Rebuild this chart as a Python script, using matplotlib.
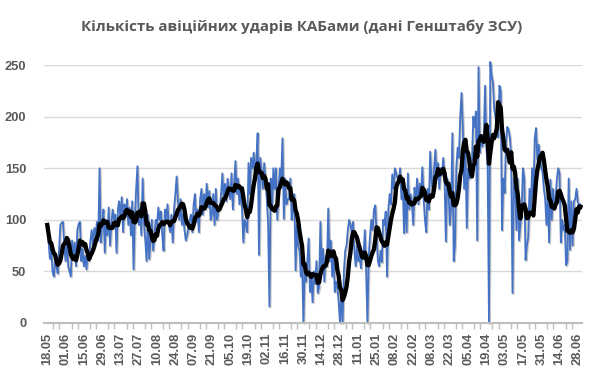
import matplotlib.pyplot as plt
import matplotlib.patheffects as pe
import numpy as np
import pandas as pd

# daily number of strikes, 18.05.2024 - 30.06.2025 (rows of 14 days)
strikes = [
    95, 78, 62, 75, 50, 45, 60, 55, 48, 70, 95, 97, 98, 75,
    60, 82, 55, 50, 45, 80, 62, 78, 55, 90, 96, 98, 60, 72,
    55, 65, 52, 70, 60, 80, 90, 75, 92, 85, 98, 80, 150, 78,
    95, 110, 68, 100, 85, 112, 75, 95, 110, 100, 105, 68, 110, 118,
    100, 122, 88, 115, 105, 120, 95, 112, 85, 118, 52, 100, 130, 152,
    95, 110, 85, 140, 98, 80, 60, 105, 62, 80, 100, 70, 85, 100,
    95, 112, 100, 108, 85, 70, 110, 100, 115, 95, 88, 105, 78, 110,
    125, 142, 118, 100, 120, 95, 105, 90, 80, 85, 92, 100, 105, 88,
    115, 125, 98, 110, 88, 120, 130, 105, 125, 110, 135, 112, 128, 100,
    105, 125, 95, 130, 100, 110, 110, 125, 145, 120, 135, 118, 140, 130,
    120, 145, 110, 135, 157, 125, 140, 115, 130, 112, 78, 100, 95, 88,
    155, 125, 160, 150, 165, 140, 158, 184, 66, 160, 145, 130, 155, 138,
    120, 95, 16, 140, 110, 150, 130, 150, 100, 130, 150, 140, 179, 101,
    140, 115, 120, 120, 140, 100, 110, 125, 51, 95, 75, 70, 45, 60,
    0, 55, 40, 60, 82, 30, 45, 20, 50, 38, 60, 29, 35, 98,
    50, 72, 40, 65, 55, 111, 60, 80, 45, 70, 30, 40, 35, 20,
    0, 30, 0, 50, 70, 75, 90, 100, 95, 88, 98, 70, 55, 75,
    60, 65, 53, 70, 65, 90, 50, 0, 65, 85, 100, 90, 110, 114,
    85, 60, 55, 70, 59, 100, 95, 108, 45, 110, 125, 115, 144, 130,
    150, 145, 140, 135, 150, 120, 135, 87, 130, 88, 145, 110, 125, 118,
    95, 131, 120, 140, 115, 135, 125, 151, 120, 100, 88, 130, 110, 166,
    140, 125, 150, 168, 140, 155, 130, 150, 143, 160, 140, 79, 140, 133,
    95, 110, 184, 60, 76, 150, 170, 160, 200, 223, 190, 130, 170, 92,
    150, 140, 155, 157, 200, 190, 205, 80, 248, 165, 180, 171, 180, 230,
    170, 150, 0, 253, 240, 233, 207, 200, 185, 180, 230, 225, 90, 140,
    126, 175, 190, 187, 180, 160, 29, 140, 135, 90, 140, 80, 95, 110,
    150, 140, 61, 75, 83, 130, 110, 150, 120, 179, 189, 158, 173, 160,
    150, 146, 130, 120, 95, 125, 78, 139, 100, 130, 110, 122, 140, 150,
    145, 78, 100, 90, 95, 56, 60, 140, 71, 118, 75, 118, 120, 130,
    117, 113, 115,
]
start_date = "2024-05-18"
label_step = 14
y_ticks = [0, 50, 100, 150, 200, 250]
title = "Кількість авіційних ударів КАБами (дані Генштабу ЗСУ)"

dates = pd.date_range(start_date, periods=len(strikes), freq="D")
s = pd.Series(strikes, index=dates)
avg7 = s.rolling(7, min_periods=1).mean()
x = np.arange(len(s))

fig = plt.figure(figsize=(5.9, 3.76), dpi=100)
ax = fig.add_axes([0.075, 0.141, 0.911, 0.686])

ax.plot(x, s.values, color="#4472C4", lw=1.3, clip_on=False,
        path_effects=[pe.SimpleLineShadow(offset=(0.8, -0.8), shadow_color="gray", alpha=0.45), pe.Normal()])
ax.plot(x, avg7.values, color="black", lw=3.1, clip_on=False, solid_joinstyle="round")

ax.set_ylim(0, 250)
ax.set_xlim(-2.3, 409)
ax.set_yticks(y_ticks)
ax.yaxis.grid(True, color="#D9D9D9", lw=1)
ax.set_axisbelow(True)

lab_pos = x[::label_step]
ax.set_xticks(lab_pos)
ax.set_xticklabels([d.strftime("%d.%m") for d in dates[::label_step]], rotation=90)
ax.set_xticks(np.arange(0, len(s), 14 / 3), minor=True)
ax.tick_params(axis="x", which="major", length=0, pad=7)
ax.tick_params(axis="x", which="minor", length=4, color="#BFBFBF", width=1)
ax.tick_params(axis="y", length=0, pad=13)
for lab in ax.get_xticklabels() + ax.get_yticklabels():
    lab.set_color("#595959")
    lab.set_fontweight("bold")
    lab.set_fontsize(9.3)
    lab.set_family("Liberation Sans")

for side in ["top", "right", "left"]:
    ax.spines[side].set_visible(False)
ax.spines["bottom"].set_color("#BFBFBF")
ax.spines["bottom"].set_linewidth(1.5)

fig.text(0.512, 0.93, title, ha="center", va="center", fontsize=10.9,
         fontweight="bold", color="#595959", family="Open Sans")

fig.savefig("out.png", dpi=100)
